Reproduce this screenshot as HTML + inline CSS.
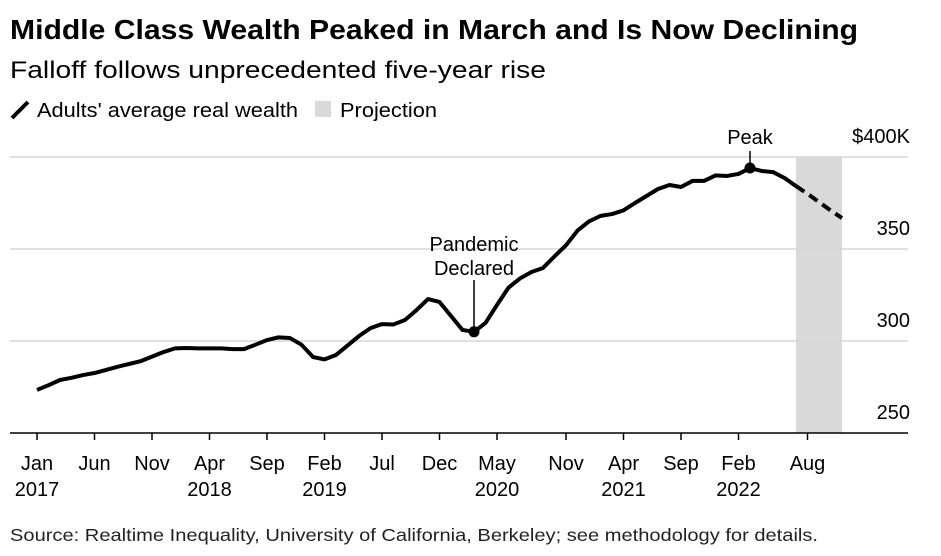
<!DOCTYPE html>
<html><head><meta charset="utf-8"><style>
body{margin:0;background:#fff;font-family:"Liberation Sans",sans-serif;}
#wrap{position:relative;width:941px;height:556px;overflow:hidden;}
</style></head><body>
<div id="wrap">
<svg id="chart" width="941" height="556" xmlns="http://www.w3.org/2000/svg">
<text x="10" y="39" font-size="28" font-weight="bold" fill="#000" textLength="848" lengthAdjust="spacingAndGlyphs">Middle Class Wealth Peaked in March and Is Now Declining</text>
<text x="10" y="78" font-size="24" fill="#000" textLength="536" lengthAdjust="spacingAndGlyphs">Falloff follows unprecedented five-year rise</text>
<g>
<line x1="12" y1="118" x2="28" y2="102" stroke="#000" stroke-width="4"/>
<text x="37" y="117" font-size="20" textLength="261" lengthAdjust="spacingAndGlyphs">Adults' average real wealth</text>
<rect x="315" y="101" width="16" height="16" fill="#d9d9d9"/>
<text x="340" y="117" font-size="20" textLength="97" lengthAdjust="spacingAndGlyphs">Projection</text>
</g>
<g id="grid"></g><g id="marks"></g><g id="labels"></g>
<text x="10" y="541" font-size="17.5" fill="#222" textLength="808" lengthAdjust="spacingAndGlyphs">Source: Realtime Inequality, University of California, Berkeley; see methodology for details.</text>
</svg>
</div>
<script>
const values=[273.4,276,278.8,280,281.5,282.6,284.3,286,287.5,289,291.5,294,296,296.2,296,296,296,295.6,295.6,298,300.5,302,301.6,298,291.3,290,292.4,297.5,302.7,307,309.2,309,311.4,316.8,322.8,321.2,313.6,306,305,309.8,319.6,329,334,337.5,339.7,346,352,360,365,368,369,371,375,378.8,382.6,384.8,383.7,387,387,390,389.7,390.8,394,392.4,391.8,388.6,384.2,380,375.5,371,366.8];
const projStart=66, projEnd=70, peakIdx=62, pandemicIdx=38;
const yTicks=[250,300,350,400];
const yTickLabels=["250","300","350","$400K"];
const xTickMonths=[0,5,10,15,20,25,30,35,40,46,51,56,61,67];
const xTickLine1=["Jan","Jun","Nov","Apr","Sep","Feb","Jul","Dec","May","Nov","Apr","Sep","Feb","Aug"];
const xTickLine2=["2017","","","2018","","2019","","","2020","","2021","","2022",""];
const NS="http://www.w3.org/2000/svg";
function x(m){return 37+11.5*m;}
function y(v){return 433-(v-250)*1.84;}
function mk(tag,attrs,parent){const e=document.createElementNS(NS,tag);for(const k in attrs)e.setAttribute(k,attrs[k]);parent.appendChild(e);return e;}
const grid=document.getElementById('grid'),marks=document.getElementById('marks'),labels=document.getElementById('labels');
const sh=mk('rect',{x:x(projStart),y:y(400),width:x(projEnd)-x(projStart),height:y(250)-y(400),fill:'#d9d9d9'},grid);


yTicks.forEach((t,i)=>{
 if(t>250){const l=mk('line',{x1:10,x2:908,y1:y(t),y2:y(t),stroke:'#d6d6d6','stroke-width':1.5},grid);
 
 }
 const tx=mk('text',{x:910,y:y(t)-14,'font-size':20,'text-anchor':'end'},labels);tx.textContent=yTickLabels[i];
 
 
});
const ax=mk('line',{x1:10,x2:908,y1:433,y2:433,stroke:'#000','stroke-width':1.5},grid);


xTickMonths.forEach((m,i)=>{
 const t=mk('line',{x1:x(m),x2:x(m),y1:433,y2:440,stroke:'#000','stroke-width':1.5},grid);
 
 
 const a=mk('text',{x:x(m),y:470,'font-size':20,'text-anchor':'middle'},labels);a.textContent=xTickLine1[i];
 
 
 if(xTickLine2[i]){const b=mk('text',{x:x(m),y:496,'font-size':20,'text-anchor':'middle'},labels);b.textContent=xTickLine2[i];
 
 }
});
const pts=(a,b)=>values.slice(a,b+1).map((v,i)=>x(a+i)+','+y(v)).join(' ');
const solid=mk('polyline',{points:pts(0,projStart),fill:'none',stroke:'#000','stroke-width':4,'stroke-linejoin':'round'},marks);


const dash=mk('polyline',{points:pts(projStart,projEnd),fill:'none',stroke:'#000','stroke-width':4,'stroke-dasharray':'10,6'},marks);


const pk=mk('circle',{cx:x(peakIdx),cy:y(values[peakIdx]),r:5.5,fill:'#000'},marks);


const pkT=mk('text',{x:x(peakIdx),y:y(values[peakIdx])-24,'font-size':20,'text-anchor':'middle'},labels);pkT.textContent='Peak';


const pkL=mk('line',{x1:x(peakIdx),x2:x(peakIdx),y1:y(values[peakIdx])-17,y2:y(values[peakIdx]),stroke:'#000','stroke-width':1.5},marks);


const py=y(values[pandemicIdx]);
const pd=mk('circle',{cx:x(pandemicIdx),cy:py,r:5.5,fill:'#000'},marks);


const pdL=mk('line',{x1:x(pandemicIdx),x2:x(pandemicIdx),y1:280,y2:py,stroke:'#000','stroke-width':1.5},marks);


['Pandemic','Declared'].forEach((s,i)=>{const t=mk('text',{x:x(pandemicIdx),y:251+i*24,'font-size':20,'text-anchor':'middle'},labels);t.textContent=s;
 
 });
</script>
</body></html>
